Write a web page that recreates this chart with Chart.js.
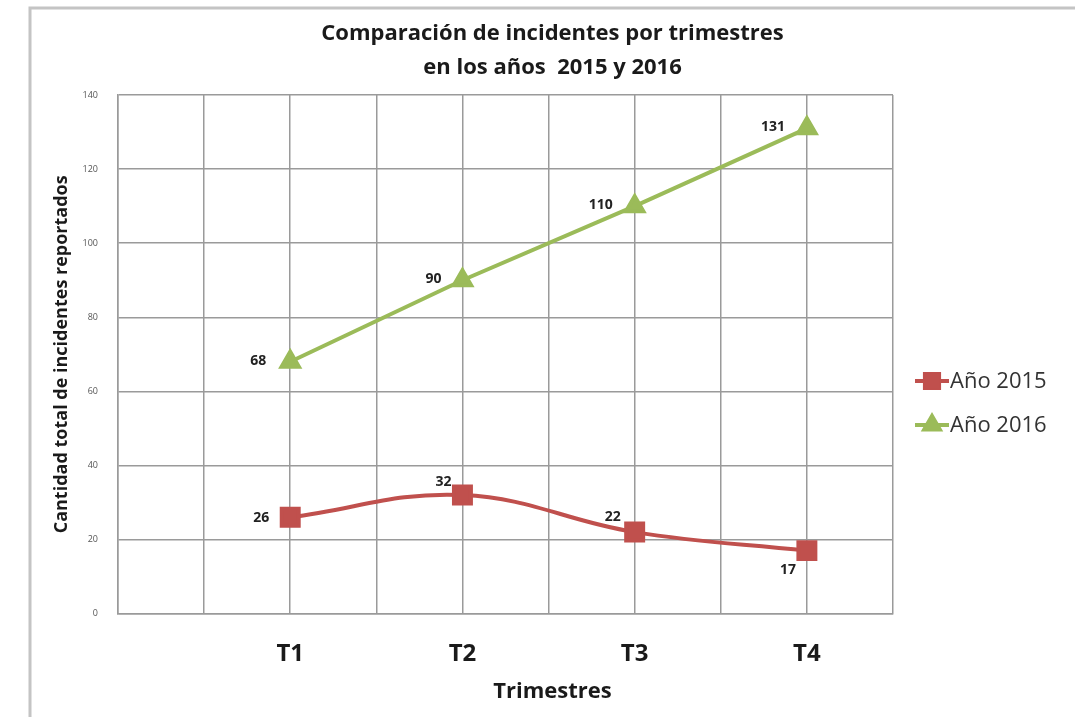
<!DOCTYPE html>
<html><head><meta charset="utf-8">
<script src="https://cdn.jsdelivr.net/npm/chart.js@4/dist/chart.umd.min.js"></script>
<style>html,body{margin:0;padding:0;background:#fff;overflow:hidden}</style>
</head><body>
<canvas id="c" width="1075" height="717"></canvas>
<script>
const categories = ['T1', 'T2', 'T3', 'T4'];
const values2015 = [26, 32, 22, 17];
const values2016 = [68, 90, 110, 131];
const seriesNames = ['Año 2015', 'Año 2016'];
const yMin = 0, yMax = 140, yStep = 20;
const chartTitle = ['Comparación de incidentes por trimestres', 'en los años  2015 y 2016'];
const xTitle = 'Trimestres';
const yTitle = 'Cantidad total de incidentes reportados';

const RED = '#C0504D', GREEN = '#9BBB59';
const FONT = '"Open Sans", Lato, sans-serif';

const toPoints = vals => vals.map((v, i) => ({ x: i + 1, y: v }));

// label offsets (style only)
const labelOffsets = [
  [[-29, 1], [-19, -13], [-22, -15], [-19, 19]],
  [[-32, -1], [-29, -1], [-34, -1], [-34, -1]]
];

const framePlugin = {
  id: 'frame',
  beforeDraw(chart) {
    const ctx = chart.ctx;
    ctx.save();
    ctx.fillStyle = '#fff';
    ctx.fillRect(0, 0, chart.width, chart.height);
    ctx.strokeStyle = '#c4c4c4';
    ctx.lineWidth = 3;
    ctx.beginPath();
    ctx.moveTo(30, chart.height);
    ctx.lineTo(30, 8);
    ctx.lineTo(chart.width, 8);
    ctx.stroke();
    ctx.restore();
  }
};

const valueLabels = {
  id: 'valueLabels',
  afterDatasetsDraw(chart) {
    const ctx = chart.ctx;
    ctx.save();
    ctx.font = 'bold 14px ' + FONT;
    ctx.fillStyle = '#222';
    ctx.textAlign = 'center';
    ctx.textBaseline = 'middle';
    chart.data.datasets.forEach((ds, di) => {
      const meta = chart.getDatasetMeta(di);
      meta.data.forEach((pt, i) => {
        const off = labelOffsets[di][i];
        ctx.fillText(String(ds.data[i].y), pt.x + off[0], pt.y + off[1]);
      });
    });
    ctx.restore();
  }
};

const sideLegend = {
  id: 'sideLegend',
  afterDraw(chart) {
    const ctx = chart.ctx;
    const x0 = 915, x1 = 949, ys = [381, 425];
    ctx.save();
    chart.data.datasets.forEach((ds, di) => {
      const y = ys[di];
      ctx.strokeStyle = ds.borderColor;
      ctx.lineWidth = 4;
      ctx.beginPath();
      ctx.moveTo(x0, y); ctx.lineTo(x1, y); ctx.stroke();
      Chart.helpers.drawPoint(ctx, {
        pointStyle: ds.pointStyle, radius: ds.pointStyle === 'rect' ? 10 : 9,
        borderWidth: 1
      }, (x0 + x1) / 2, y);
      ctx.fillStyle = ds.borderColor;
      ctx.fill();
      ctx.fillStyle = '#333';
      ctx.font = '22px ' + FONT;
      ctx.textAlign = 'left';
      ctx.textBaseline = 'middle';
      ctx.fillText(ds.label, x1 + 1, y + 1);
    });
    ctx.restore();
  }
};

new Chart(document.getElementById('c'), {
  type: 'line',
  data: {
    datasets: [
      {
        label: seriesNames[0],
        data: toPoints(values2015),
        borderColor: RED, backgroundColor: RED,
        borderWidth: 4, tension: 0.4,
        pointStyle: 'rect', pointRadius: 12, pointHoverRadius: 12,
        pointBorderColor: RED, pointBackgroundColor: RED
      },
      {
        label: seriesNames[1],
        data: toPoints(values2016),
        borderColor: GREEN, backgroundColor: GREEN,
        borderWidth: 4, tension: 0,
        pointStyle: 'triangle', pointRadius: 10, pointHoverRadius: 10,
        pointBorderColor: GREEN, pointBackgroundColor: GREEN
      }
    ]
  },
  options: {
    responsive: false,
    animation: false,
    events: [],
    layout: { padding: { left: 30, top: 0, right: 0, bottom: 0 } },
    plugins: {
      legend: { display: false },
      tooltip: { enabled: false },
      title: {
        display: true,
        text: chartTitle,
        color: '#1a1a1a',
        font: { family: FONT, size: 22, weight: 'bold', lineHeight: '34px' },
        padding: { top: 17, bottom: 10 }
      },
      subtitle: {
        display: true,
        position: 'bottom',
        text: xTitle,
        color: '#1a1a1a',
        font: { family: FONT, size: 22, weight: 'bold', lineHeight: 1.2 },
        padding: { top: 3, bottom: 12 }
      }
    },
    scales: {
      x: {
        type: 'linear',
        min: 0, max: 4.5,
        afterFit: s => { s.height = 62; },
        ticks: {
          stepSize: 0.5, autoSkip: false, maxRotation: 0,
          padding: 26,
          color: '#1a1a1a',
          font: { family: FONT, size: 24, weight: 'bold' },
          callback: v => (Number.isInteger(v) && v >= 1 && v <= categories.length) ? categories[v - 1] : ''
        },
        grid: { color: '#9a9a9a', lineWidth: 1.5, drawTicks: false },
        border: { color: '#9a9a9a', width: 1.5 }
      },
      y: {
        min: yMin, max: yMax,
        afterFit: s => { s.width = 88; },
        ticks: {
          stepSize: yStep, padding: 20,
          color: '#555',
          font: { family: FONT, size: 9 }
        },
        grid: { color: '#9a9a9a', lineWidth: 1.5, drawTicks: false },
        border: { color: '#9a9a9a', width: 1.5 },
        title: {
          display: true, text: yTitle, color: '#1a1a1a',
          font: { family: FONT, size: 18, weight: 'bold', lineHeight: 1.2 },
          padding: { top: 21, bottom: 0 }
        }
      },
      yRight: {
        position: 'right',
        display: true,
        afterFit: s => { s.width = 182; },
        ticks: { display: false },
        grid: { display: false },
        border: { display: false }
      }
    }
  },
  plugins: [framePlugin, valueLabels, sideLegend]
});
</script>
</body></html>
